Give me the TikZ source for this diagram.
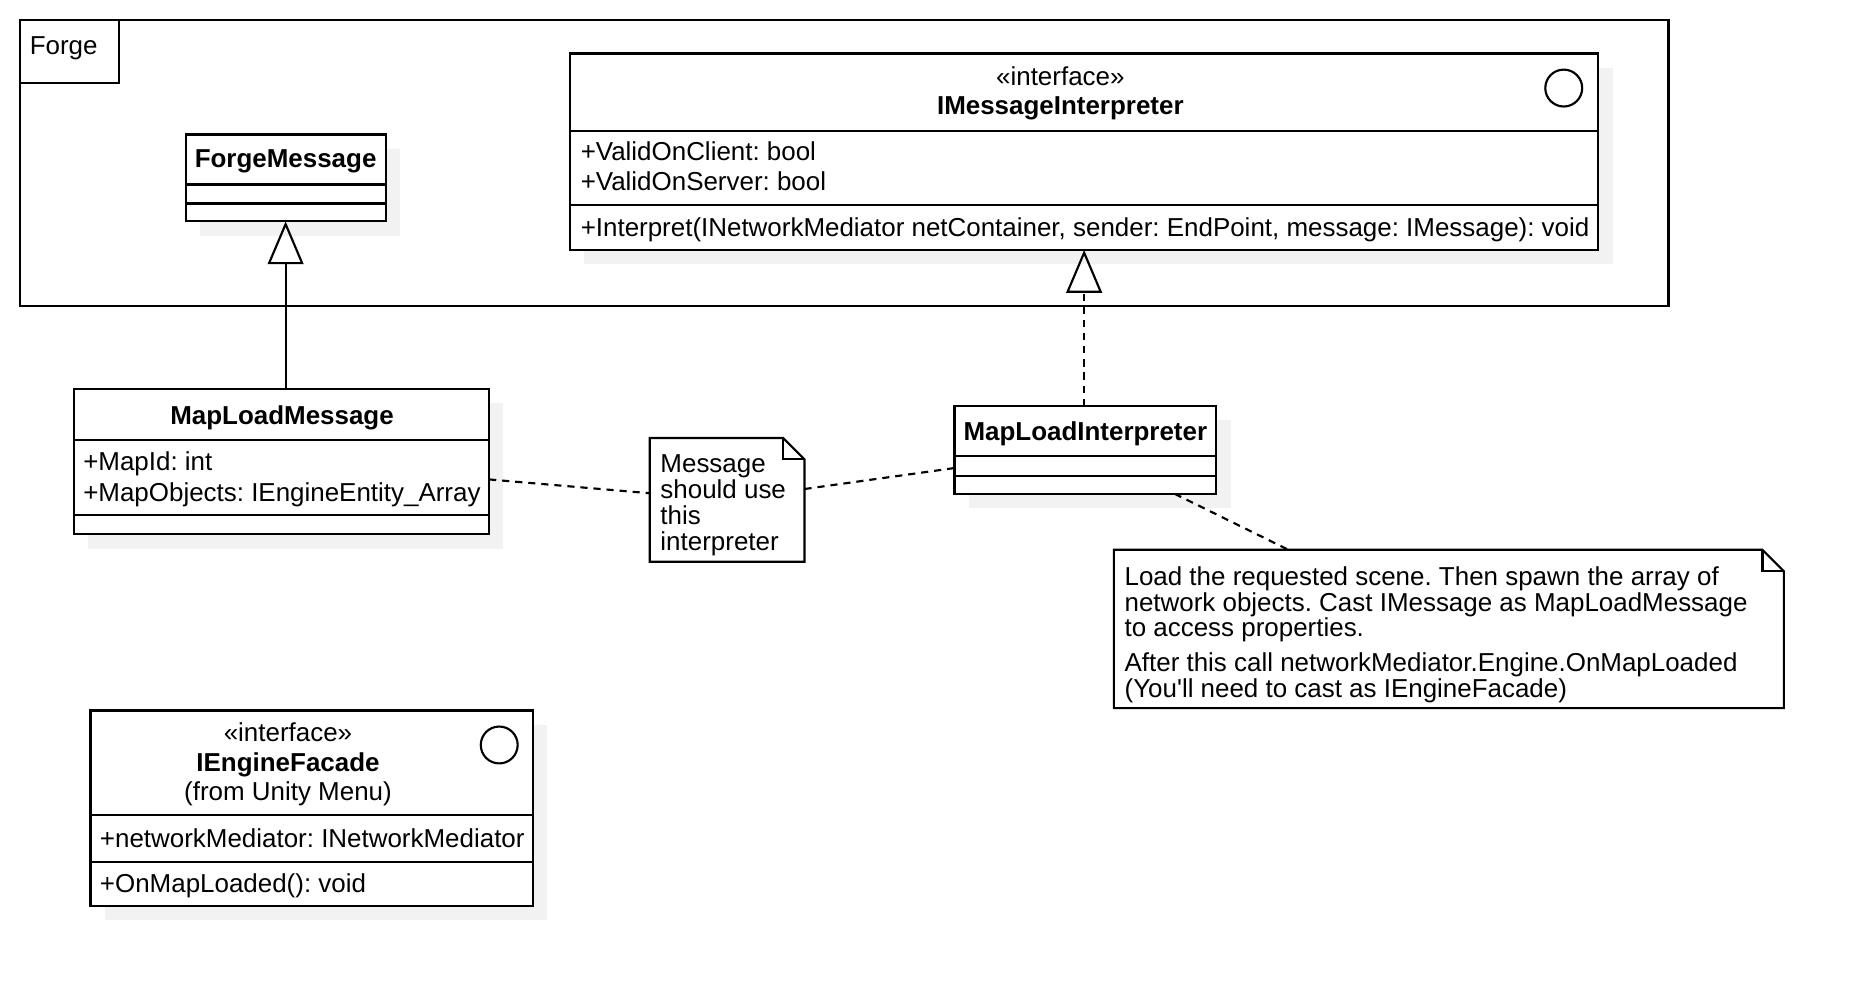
\documentclass[tikz,border=0pt]{standalone}
\usepackage{fontspec}
\defaultfontfeatures[\rmfamily]{}
\setmainfont{Liberation Sans}
\usetikzlibrary{arrows.meta}
\frenchspacing
\begin{document}
\frenchspacing
\begin{tikzpicture}[x=1pt,y=-1pt,
  classbox/.style={draw, line width=1.8pt, fill=white, anchor=north west, inner sep=0pt, outer sep=0pt},
  shadowbox/.style={fill=black!5, draw=none, anchor=north west, inner sep=0pt, outer sep=0pt},
  notebox/.style={draw=none, anchor=north west, inner sep=0pt, outer sep=0pt},
  lbl/.style={inner sep=0pt, outer sep=0pt, font=\fontsize{21.8}{26}\selectfont\frenchspacing},
  blbl/.style={inner sep=0pt, outer sep=0pt, font=\fontsize{21.8}{26}\selectfont\bfseries\frenchspacing},
  compline/.style={line width=1.8pt},
  noteline/.style={line width=1.8pt, line join=miter},
  dashline/.style={line width=1.8pt, dash pattern=on 6pt off 5pt},
  genarrow/.style={line width=1.8pt, -{Triangle[open, length=36pt, width=30pt]}},
  realarrow/.style={line width=1.8pt, dash pattern=on 6pt off 5pt, -{Triangle[open, length=36pt, width=30pt]}},
  iface/.style={circle, draw, line width=1.8pt, minimum size=31pt, inner sep=0pt},
]
\useasboundingbox (0,0) rectangle (1568,828.5);

% package frame
\node[classbox, fill=none, minimum width=1385pt, minimum height=240pt] (forge) at (17,17) {};
\node[classbox, fill=none, minimum width=83pt, minimum height=53pt] (tab) at (17,17) {};
\node[lbl, anchor=base west] (forgelbl) at (25,46) {Forge};

% shadows
\node[shadowbox, minimum width=168pt, minimum height=73pt] (fm-s) at (168,125) {};
\node[shadowbox, minimum width=864pt, minimum height=165pt] (imi-s) at (491,57) {};
\node[shadowbox, minimum width=349pt, minimum height=122pt] (mlm-s) at (74,339) {};
\node[shadowbox, minimum width=220pt, minimum height=74pt] (mli-s) at (814,353) {};
\node[shadowbox, minimum width=372pt, minimum height=164pt] (ief-s) at (88,609) {};

% class boxes
\node[classbox, minimum width=168pt, minimum height=73pt] (fm) at (156,113) {};
\node[classbox, minimum width=864pt, minimum height=165pt] (imi) at (479,45) {};
\node[classbox, minimum width=349pt, minimum height=122pt] (mlm) at (62,327) {};
\node[classbox, minimum width=220pt, minimum height=74pt] (mli) at (802,341) {};
\node[classbox, minimum width=372pt, minimum height=164pt] (ief) at (76,597) {};

% compartments
\draw[compline] ([yshift=-42pt]fm.north west) -- ([yshift=-42pt]fm.north east);
\draw[compline] ([yshift=-58pt]fm.north west) -- ([yshift=-58pt]fm.north east);
\draw[compline] ([yshift=-65pt]imi.north west) -- ([yshift=-65pt]imi.north east);
\draw[compline] ([yshift=-127pt]imi.north west) -- ([yshift=-127pt]imi.north east);
\draw[compline] ([yshift=-43pt]mlm.north west) -- ([yshift=-43pt]mlm.north east);
\draw[compline] ([yshift=-106pt]mlm.north west) -- ([yshift=-106pt]mlm.north east);
\draw[compline] ([yshift=-42pt]mli.north west) -- ([yshift=-42pt]mli.north east);
\draw[compline] ([yshift=-59pt]mli.north west) -- ([yshift=-59pt]mli.north east);
\draw[compline] ([yshift=-88pt]ief.north west) -- ([yshift=-88pt]ief.north east);
\draw[compline] ([yshift=-127pt]ief.north west) -- ([yshift=-127pt]ief.north east);

% interface circles
\node[iface] (imi-c) at (1314,74) {};
\node[iface] (ief-c) at (419.5,626) {};

% class texts
\node[blbl, anchor=base] (fm-t) at (240,141) {ForgeMessage};

\node[lbl, anchor=base] (imi-st) at (891,72) {«interface»};
\node[blbl, anchor=base] (imi-t) at (891,96) {IMessageInterpreter};
\node[lbl, anchor=base west] (imi-a1) at (488,135) {+ValidOnClient: bool};
\node[lbl, anchor=base west] (imi-a2) at (488,160) {+ValidOnServer: bool};
\node[lbl, anchor=base west] (imi-m1) at (488,199) {+Interpret(INetworkMediator netContainer, sender: EndPoint, message: IMessage): void};

\node[blbl, anchor=base] (mlm-t) at (237,357) {MapLoadMessage};
\node[lbl, anchor=base west] (mlm-a1) at (70,395) {+MapId: int};
\node[lbl, anchor=base west] (mlm-a2) at (70,421) {+MapObjects: IEngineEntity\_Array};

\node[blbl, anchor=base] (mli-t) at (912,370) {MapLoadInterpreter};

\node[lbl, anchor=base] (ief-st) at (242,623) {«interface»};
\node[blbl, anchor=base] (ief-t) at (242,648) {IEngineFacade};
\node[lbl, anchor=base] (ief-from) at (242,673) {(from Unity Menu)};
\node[lbl, anchor=base west] (ief-a1) at (84,712) {+networkMediator: INetworkMediator};
\node[lbl, anchor=base west] (ief-m1) at (84,750) {+OnMapLoaded(): void};

% notes
\node[notebox, minimum width=130pt, minimum height=104pt] (n1) at (546,368) {};
\draw[noteline] (n1.north west) -- ([xshift=-18pt]n1.north east) -- ([yshift=-18pt]n1.north east) -- (n1.south east) -- (n1.south west) -- cycle;
\draw[noteline] ([xshift=-18pt]n1.north east) -- ([xshift=-18pt,yshift=-18pt]n1.north east) -- ([yshift=-18pt]n1.north east);
\node[lbl, anchor=base west] (n1-l1) at (555,397) {Message};
\node[lbl, anchor=base west] (n1-l2) at (555,419) {should use};
\node[lbl, anchor=base west] (n1-l3) at (555,441) {this};
\node[lbl, anchor=base west] (n1-l4) at (555,463) {interpreter};

\node[notebox, minimum width=563pt, minimum height=133pt] (n2) at (936,462) {};
\draw[noteline] (n2.north west) -- ([xshift=-18pt]n2.north east) -- ([yshift=-18pt]n2.north east) -- (n2.south east) -- (n2.south west) -- cycle;
\draw[noteline] ([xshift=-18pt]n2.north east) -- ([xshift=-18pt,yshift=-18pt]n2.north east) -- ([yshift=-18pt]n2.north east);
\node[lbl, anchor=base west] (n2-l1) at (945,492) {Load the requested scene. Then spawn the array of};
\node[lbl, anchor=base west] (n2-l2) at (945,514) {network objects. Cast IMessage as MapLoadMessage};
\node[lbl, anchor=base west] (n2-l3) at (945,535) {to access properties.};
\node[lbl, anchor=base west] (n2-l4) at (945,564) {After this call networkMediator.Engine.OnMapLoaded};
\node[lbl, anchor=base west] (n2-l5) at (945,586) {(You'll need to cast as IEngineFacade)};

% connectors
\draw[genarrow] (fm.south |- mlm.north) -- (fm.south);
\draw[realarrow] (imi.south |- mli.north) -- (imi.south);
\draw[dashline] (mlm) -- (n1);
\draw[dashline] (n1) -- (mli);
\draw[dashline] (mli) -- (n2);
\end{tikzpicture}
\end{document}
